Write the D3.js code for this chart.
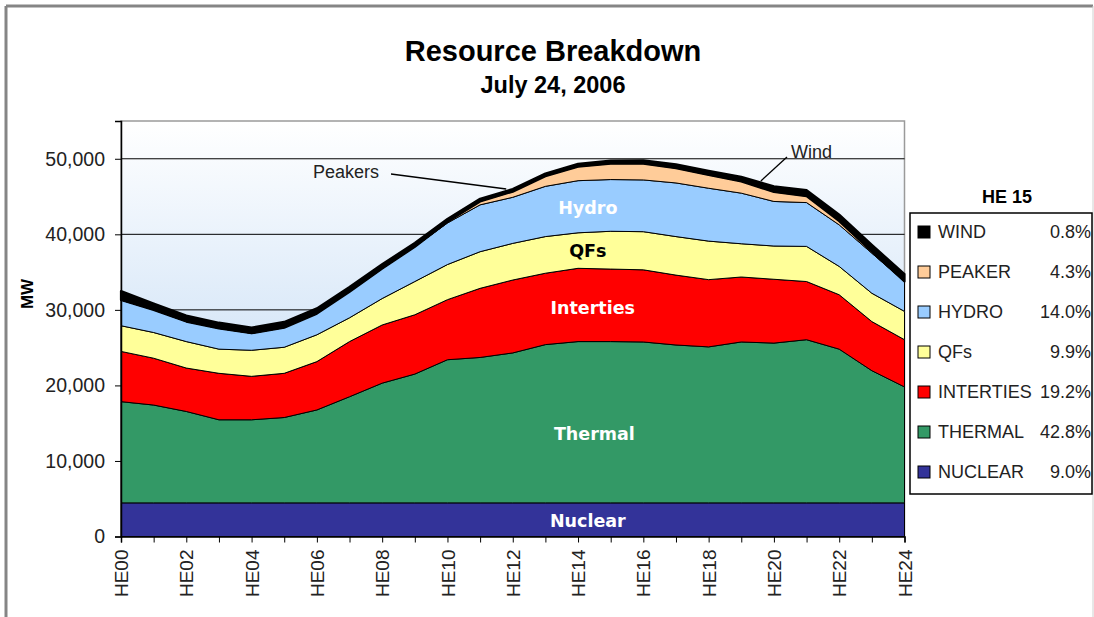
<!DOCTYPE html>
<html>
<head>
<meta charset="utf-8">
<script src="https://cdn.jsdelivr.net/npm/d3@7"></script>
<style>
  body { margin: 0; background: #fff; }
  svg { display: block; font-family: "Liberation Sans", Arial, sans-serif; }
</style>
</head>
<body>
<script>
// hourly values (MW), HE00 .. HE24
var hourLabels = ["HE00","HE01","HE02","HE03","HE04","HE05","HE06","HE07","HE08","HE09","HE10","HE11","HE12",
                  "HE13","HE14","HE15","HE16","HE17","HE18","HE19","HE20","HE21","HE22","HE23","HE24"];
var nuclear   = [4450,4450,4450,4450,4450,4450,4450,4450,4450,4450,4450,4450,4450,4450,4450,4450,4450,4450,4450,4450,4450,4450,4450,4450,4450];
var thermal   = [13400,12950,12100,11000,11000,11300,12300,14050,15850,17050,18950,19250,19850,20950,21350,21350,21300,20900,20650,21300,21150,21600,20350,17500,15350];
var interties = [6650,6200,5750,6150,5750,5850,6400,7300,7700,7850,7950,9150,9650,9450,9700,9600,9550,9250,8900,8600,8450,7700,7200,6500,6250];
var qfs       = [3400,3400,3500,3200,3450,3450,3550,3150,3500,4400,4650,4850,4850,4850,4700,5000,5050,5100,5100,4400,4400,4650,3750,3750,3750];
var hydro     = [3400,3000,2650,2750,2250,2600,2800,3450,3950,4600,5500,6200,6100,6650,6900,6850,6850,7100,7000,6700,5900,5800,5500,5300,3950];
var peaker    = [0,0,0,0,0,0,0,0,0,0,150,450,750,1350,1850,2100,2150,1950,1750,1550,1250,850,500,200,0];
var wind      = [1200,850,800,750,750,750,700,650,600,500,400,350,350,350,380,400,450,500,550,600,750,800,850,900,1000];

var seriesKeys   = ["nuclear","thermal","interties","qfs","hydro","peaker","wind"];
var seriesColors = ["#333399","#339966","#ff0000","#ffff99","#99ccff","#ffcc99","#000000"];
// legend (top to bottom) with the HE 15 shares printed on the chart
var legendNames  = ["WIND","PEAKER","HYDRO","QFs","INTERTIES","THERMAL","NUCLEAR"];
var legendShares = ["0.8%","4.3%","14.0%","9.9%","19.2%","42.8%","9.0%"];
var yTicks = [0,10000,20000,30000,40000,50000];

var width = 1094, height = 617;
var plot = { left: 121, right: 904.5, top: 121, bottom: 536.5 };

var svg = d3.select("body").append("svg")
    .attr("width", width)
    .attr("height", height);

// outer chart frame
svg.append("line").attr("x1", 6).attr("y1", 6).attr("x2", 1093).attr("y2", 6)
    .attr("stroke", "#858585").attr("stroke-width", 3);
svg.append("line").attr("x1", 6).attr("y1", 6).attr("x2", 6).attr("y2", height)
    .attr("stroke", "#858585").attr("stroke-width", 3);
svg.append("line").attr("x1", 1093).attr("y1", 6).attr("x2", 1093).attr("y2", height)
    .attr("stroke", "#d0d0d0").attr("stroke-width", 1);

// titles
svg.append("text").attr("x", 553).attr("y", 61)
    .attr("text-anchor", "middle").attr("font-size", 29).attr("font-weight", "bold")
    .text("Resource Breakdown");
svg.append("text").attr("x", 553).attr("y", 93)
    .attr("text-anchor", "middle").attr("font-size", 23.5).attr("font-weight", "bold")
    .text("July 24, 2006");

var x = d3.scaleLinear().domain([0, 24]).range([plot.left, plot.right]);
var y = d3.scaleLinear().domain([0, 55000]).range([plot.bottom, plot.top]);

// plot background gradient
var defs = svg.append("defs");
var grad = defs.append("linearGradient").attr("id", "bg")
    .attr("x1", 0).attr("y1", 0).attr("x2", 0).attr("y2", 1);
grad.append("stop").attr("offset", "0%").attr("stop-color", "#ffffff");
grad.append("stop").attr("offset", "100%").attr("stop-color", "#b4d2f2");

svg.append("rect")
    .attr("x", plot.left).attr("y", plot.top)
    .attr("width", plot.right - plot.left).attr("height", plot.bottom - plot.top)
    .attr("fill", "url(#bg)")
    .attr("stroke", "#9a9a9a").attr("stroke-width", 1.5);

// gridlines
svg.append("g").selectAll("line")
    .data(yTicks.slice(1))
    .enter().append("line")
    .attr("x1", plot.left).attr("x2", plot.right)
    .attr("y1", function (d) { return y(d); })
    .attr("y2", function (d) { return y(d); })
    .attr("stroke", "#000").attr("stroke-width", 1);

// stacked areas
var rows = hourLabels.map(function (h, i) {
    return { hour: i, nuclear: nuclear[i], thermal: thermal[i], interties: interties[i],
             qfs: qfs[i], hydro: hydro[i], peaker: peaker[i], wind: wind[i] };
});
var stacked = d3.stack().keys(seriesKeys)(rows);

var area = d3.area()
    .x(function (d) { return x(d.data.hour); })
    .y0(function (d) { return y(d[0]); })
    .y1(function (d) { return y(d[1]); });

svg.append("g").selectAll("path")
    .data(stacked)
    .enter().append("path")
    .attr("d", area)
    .attr("fill", function (d, i) { return seriesColors[i]; })
    .attr("stroke", "#000")
    .attr("stroke-width", function (d) { return d.key === "wind" ? 2.2 : 1; })
    .attr("stroke-linejoin", "round");

// labels inside the areas
var areaLabels = [
    { text: "Hydro",     hour: 14.3,  value: 43500, color: "#fff" },
    { text: "QFs",       hour: 14.3,  value: 37850, color: "#000" },
    { text: "Interties", hour: 14.45, value: 30250, color: "#fff" },
    { text: "Thermal",   hour: 14.5,  value: 13550, color: "#fff" },
    { text: "Nuclear",   hour: 14.3,  value: 2100,  color: "#fff" }
];
svg.append("g").selectAll("text")
    .data(areaLabels)
    .enter().append("text")
    .attr("x", function (d) { return x(d.hour); })
    .attr("y", function (d) { return y(d.value); })
    .attr("dy", "0.36em")
    .attr("text-anchor", "middle")
    .attr("font-family", "'DejaVu Sans', Verdana, sans-serif")
    .attr("font-size", 17.5).attr("font-weight", "bold")
    .attr("fill", function (d) { return d.color; })
    .text(function (d) { return d.text; });

// y axis
var yAxis = svg.append("g")
    .attr("transform", "translate(" + plot.left + ",0)")
    .call(d3.axisLeft(y).tickValues(yTicks).tickSize(6).tickPadding(10).tickFormat(d3.format(",")));
yAxis.select(".domain").attr("stroke", "#000").attr("stroke-width", 1.5);
yAxis.selectAll("text").attr("font-size", 19.5).attr("fill", "#222")
    .attr("font-family", "'Liberation Sans', Arial, sans-serif");

svg.append("text")
    .attr("transform", "translate(33,294) rotate(-90)")
    .attr("text-anchor", "middle").attr("font-size", 17).attr("font-weight", "bold")
    .text("MW");

// x axis
var xAxis = svg.append("g")
    .attr("transform", "translate(0," + plot.bottom + ")")
    .call(d3.axisBottom(x).tickValues(d3.range(0, 25)).tickSize(6)
        .tickFormat(function (d) { return d % 2 === 0 ? hourLabels[d] : ""; }));
xAxis.select(".domain").attr("stroke", "#000").attr("stroke-width", 1.5);
xAxis.selectAll("text")
    .attr("font-size", 19).attr("fill", "#222")
    .attr("font-family", "'Liberation Sans', Arial, sans-serif")
    .attr("transform", "rotate(-90)")
    .attr("text-anchor", "end")
    .attr("x", -13).attr("y", 0).attr("dy", "0.35em");

// callouts
svg.append("text").attr("x", 313).attr("y", 178).attr("font-size", 18).attr("fill", "#222").text("Peakers");
svg.append("line").attr("x1", 391).attr("y1", 174).attr("x2", x(11.8)).attr("y2", 189)
    .attr("stroke", "#000").attr("stroke-width", 1.3);
svg.append("text").attr("x", 791).attr("y", 158).attr("font-size", 18).attr("fill", "#222").text("Wind");
svg.append("line").attr("x1", 787).attr("y1", 157).attr("x2", x(19.6)).attr("y2", 181)
    .attr("stroke", "#000").attr("stroke-width", 1.3);

// legend
svg.append("text").attr("x", 1007).attr("y", 203)
    .attr("text-anchor", "middle").attr("font-size", 18).attr("font-weight", "bold")
    .text("HE 15");
svg.append("rect").attr("x", 910).attr("y", 213).attr("width", 182).attr("height", 281)
    .attr("fill", "#fff").attr("stroke", "#000").attr("stroke-width", 1.5);

var legendColors = seriesColors.slice().reverse();
var item = svg.append("g").selectAll("g")
    .data(legendNames)
    .enter().append("g")
    .attr("transform", function (d, i) { return "translate(0," + (232 + i * 40) + ")"; });
item.append("rect")
    .attr("x", 918).attr("y", -6).attr("width", 12).attr("height", 12)
    .attr("fill", function (d, i) { return legendColors[i]; })
    .attr("stroke", "#000").attr("stroke-width", 1);
item.append("text")
    .attr("x", 938).attr("dy", "0.36em").attr("font-size", 18).attr("fill", "#222")
    .text(function (d) { return d; });
item.append("text")
    .attr("x", 1091).attr("dy", "0.36em").attr("text-anchor", "end").attr("font-size", 18).attr("fill", "#222")
    .text(function (d, i) { return legendShares[i]; });
</script>
</body>
</html>
